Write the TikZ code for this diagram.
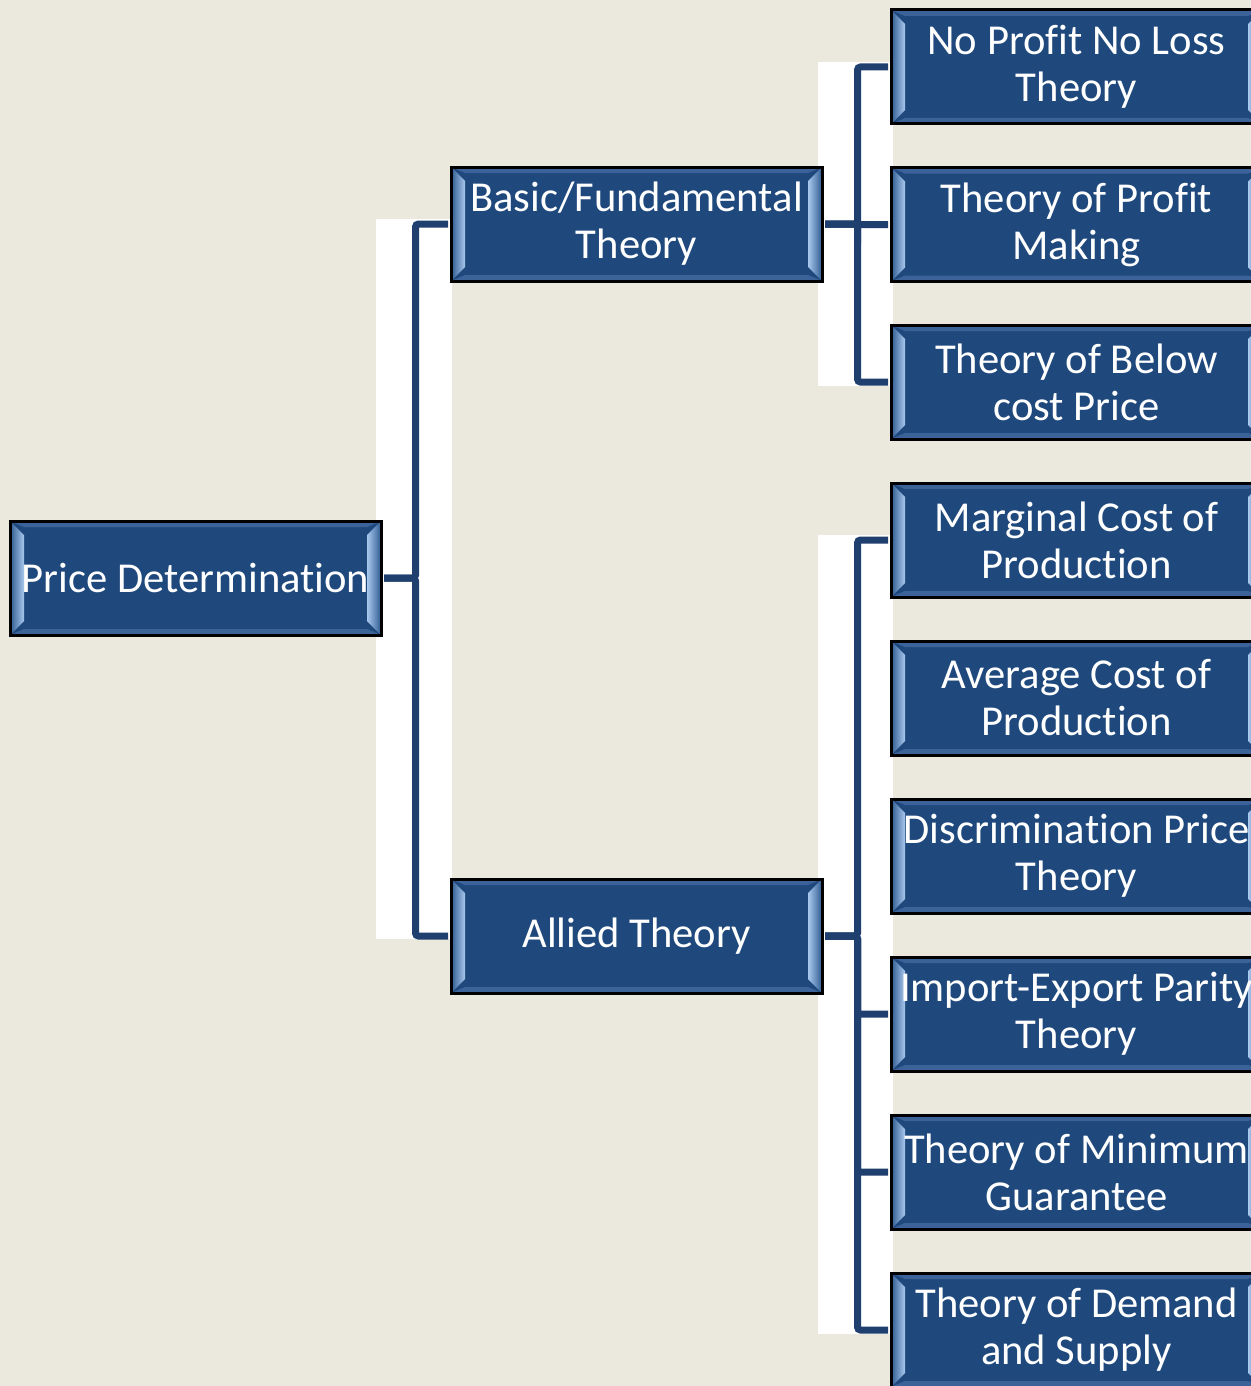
\documentclass[tikz,border=0pt]{standalone}
\usepackage{fontspec}
\setmainfont[Ligatures=NoCommon]{Carlito}
\definecolor{papier}{HTML}{EBE8DE}
\definecolor{bleu}{HTML}{1F497D}
\definecolor{trait}{HTML}{1F3F6E}
\definecolor{bevclair}{HTML}{A9C9EE}
\definecolor{bevsombre}{HTML}{2E5A90}
\definecolor{bevhaut}{HTML}{3C6399}

\begin{document}
\begin{tikzpicture}[x=0.5pt, y=-0.5pt]
	\tikzset{boite/.style={rectangle, draw=black, line width=1.5pt, fill=bleu, text=white,
			minimum width=185.5pt, minimum height=57pt, inner sep=0pt, align=center,
			font=\fontsize{21.3}{23.5}\selectfont,
			path picture={
				\coordinate (hg) at (path picture bounding box.north west);
				\coordinate (bd) at (path picture bounding box.south east);
				\fill[bevhaut] (hg) -- (hg-|bd) -- ([shift={(-7pt,-3pt)}]hg-|bd) -- ([shift={(7pt,-3pt)}]hg) -- cycle;
				\fill[bevhaut] (hg|-bd) -- (bd) -- ([shift={(-7pt,3pt)}]bd) -- ([shift={(7pt,3pt)}]hg|-bd) -- cycle;
				\shade[left color=bevsombre, right color=bevclair] (hg) -- ([shift={(7pt,-7pt)}]hg) -- ([shift={(7pt,7pt)}]hg|-bd) -- (hg|-bd) -- cycle;
				\shade[left color=bevclair, right color=bevsombre] (bd) -- ([shift={(-7pt,7pt)}]bd) -- ([shift={(-7pt,-7pt)}]bd|-hg) -- (bd|-hg) -- cycle;
			}},
		lien/.style={draw=trait, line width=3.5pt, rounded corners=1.5pt, shorten <=0.75pt, shorten >=0.75pt},
		fond/.style={fill=white}};

	\useasboundingbox[fill=papier] (0,0) rectangle (1251,1386);

	% bandes blanches
	\fill[fond] (376,219) rectangle (452,939);
	\fill[fond] (818,62) rectangle (893,386);
	\fill[fond] (818,535) rectangle (893,1334);

	\node[boite] (prix)  at (195.5, 578) {Price Determination};
	\node[boite] (base)  at (636.5, 224) {Basic/Fundamental\\Theory};
	\node[boite] (allie) at (636.5, 936) {Allied Theory};

	\node[boite] (f1) at (1076.5,   67) {No Profit No Loss\\Theory};
	\node[boite] (f2) at (1076.5,  224.5) {Theory of Profit\\Making};
	\node[boite] (f3) at (1076.5,  382) {Theory of Below\\cost Price};
	\node[boite] (f4) at (1076.5,  540) {Marginal Cost of\\Production};
	\node[boite] (f5) at (1076.5,  698) {Average Cost of\\Production};
	\node[boite] (f6) at (1076.5,  856) {Discrimination Price\\Theory};
	\node[boite] (f7) at (1076.5, 1014) {Import-Export Parity\\Theory};
	\node[boite] (f8) at (1076.5, 1172) {Theory of Minimum\\Guarantee};
	\node[boite] (f9) at (1076.5, 1330) {Theory of Demand\\and Supply};

	\draw[lien] (prix.east) -- ++(33,0) |- (base.west);
	\draw[lien] (prix.east) -- ++(33,0) |- (allie.west);

	\draw[lien] (base.east) -- ++(34,0) |- (f1.west);
	\draw[lien] (base.east) -- ++(34,0) |- (f2.west);
	\draw[lien] (base.east) -- ++(34,0) |- (f3.west);

	\draw[lien] (allie.east) -- ++(34,0) |- (f4.west);
	\draw[lien] (allie.east) -- ++(34,0) |- (f7.west);
	\draw[lien] (allie.east) -- ++(34,0) |- (f8.west);
	\draw[lien] (allie.east) -- ++(34,0) |- (f9.west);

\end{tikzpicture}
\end{document}
